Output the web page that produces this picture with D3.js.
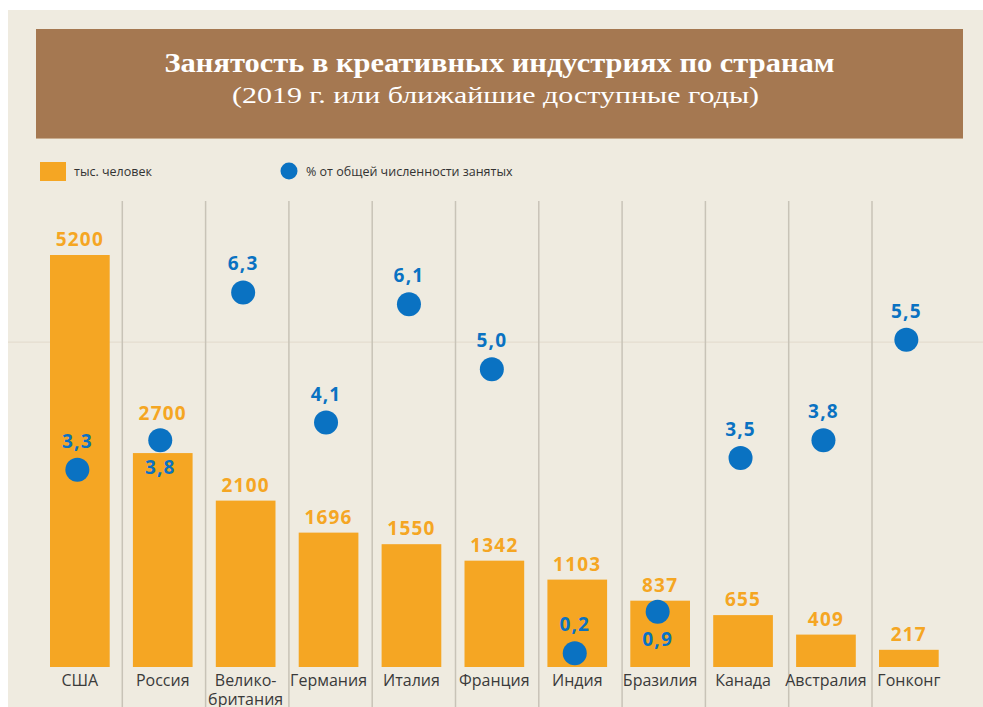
<!DOCTYPE html>
<html lang="ru">
<head>
    <meta charset="utf-8" />
    <title>Занятость в креативных индустриях</title>
    <style>
        body { margin: 0; background: #fff; }
        .title { font-family: "Liberation Serif", serif; fill: #fff; }
        .legend text { font: 12.5px "Open Sans", sans-serif; fill: #333; }
        .country { font: 16px "Open Sans", sans-serif; fill: #3a3a3a; }
        .bar-label { font: bold 19px "Open Sans", sans-serif; fill: #f5a623; letter-spacing: 1.2px; }
        .dot-label { font: bold 19px "Open Sans", sans-serif; fill: #0a72c2; letter-spacing: 1.2px; }
    </style>
</head>
<body>
    <div id="graph"></div>
    <script src="https://cdn.jsdelivr.net/npm/d3@7"></script>
    <script>
        var countries = ["США", "Россия", "Велико-\nбритания", "Германия", "Италия", "Франция",
                         "Индия", "Бразилия", "Канада", "Австралия", "Гонконг"];
        var employment = [5200, 2700, 2100, 1696, 1550, 1342, 1103, 837, 655, 409, 217];   // тыс. человек
        var share = [3.3, 3.8, 6.3, 4.1, 6.1, 5.0, 0.2, 0.9, 3.5, 3.8, 5.5];              // % от занятых
        var labelBelow = ["Россия", "Бразилия"];

        var data = countries.map(function (c, i) {
            return { name: c, value: employment[i], share: share[i] };
        });

        var W = 983, H = 707;
        var orange = "#f5a623", blue = "#0a72c2";

        var svg = d3.select("#graph").append("svg")
            .attr("width", W)
            .attr("height", H);

        // beige panel
        svg.append("rect")
            .attr("x", 8).attr("y", 10)
            .attr("width", W - 8).attr("height", H - 10)
            .attr("fill", "#efebe0");

        // title box
        svg.append("rect")
            .attr("x", 36).attr("y", 29)
            .attr("width", 927).attr("height", 109)
            .attr("fill", "#a57851");
        svg.append("line")
            .attr("x1", 36).attr("x2", 963)
            .attr("y1", 138.5).attr("y2", 138.5)
            .attr("stroke", "#c9ad8f");

        svg.append("text")
            .attr("class", "title")
            .attr("x", 499.5).attr("y", 72)
            .attr("text-anchor", "middle")
            .attr("font-size", 27)
            .attr("font-weight", "bold")
            .attr("textLength", 670)
            .attr("lengthAdjust", "spacingAndGlyphs")
            .text("Занятость в креативных индустриях по странам");
        svg.append("text")
            .attr("class", "title")
            .attr("x", 495.5).attr("y", 103)
            .attr("text-anchor", "middle")
            .attr("font-size", 23)
            .attr("textLength", 527)
            .attr("lengthAdjust", "spacingAndGlyphs")
            .text("(2019 г. или ближайшие доступные годы)");

        // legend
        var legend = svg.append("g").attr("class", "legend");
        legend.append("rect")
            .attr("x", 40).attr("y", 162)
            .attr("width", 26).attr("height", 19)
            .attr("fill", orange);
        legend.append("text")
            .attr("x", 74).attr("y", 175.5)
            .text("тыс. человек");
        legend.append("circle")
            .attr("cx", 289).attr("cy", 171)
            .attr("r", 8.5)
            .attr("fill", blue);
        legend.append("text")
            .attr("x", 306).attr("y", 175.5)
            .text("% от общей численности занятых");

        // scales
        var x = d3.scaleBand()
            .domain(countries)
            .range([38.4, 950.3])
            .paddingInner(0.28)
            .paddingOuter(0.14);

        // columns (separators) are a touch wider than the bar steps
        var col = d3.scaleBand()
            .domain(countries)
            .range([39, 955.3]);

        var y = d3.scaleLinear()
            .domain([0, 5200])
            .range([667, 255]);

        var yDot = d3.scaleLinear()
            .domain([0, 7])
            .range([665, 251]);

        var bw = x.bandwidth();
        var dotShift = -2.5;

        // faint horizontal guide
        svg.append("line")
            .attr("x1", 8).attr("x2", W)
            .attr("y1", y(4100)).attr("y2", y(4100))
            .attr("stroke", "#e4ddcf")
            .attr("stroke-width", 1.2);

        // column separators
        svg.selectAll(".sep")
            .data(countries.slice(1))
            .enter()
            .append("line")
            .attr("class", "sep")
            .attr("x1", function (d) { return col(d); })
            .attr("x2", function (d) { return col(d); })
            .attr("y1", 201).attr("y2", H)
            .attr("stroke", "#c8c3b7")
            .attr("stroke-width", 1.5);

        // bars
        svg.selectAll(".bar")
            .data(data)
            .enter()
            .append("rect")
            .attr("class", "bar")
            .attr("x", function (d) { return x(d.name); })
            .attr("width", bw)
            .attr("y", function (d) { return y(d.value); })
            .attr("height", function (d) { return y(0) - y(d.value); })
            .attr("fill", orange);

        svg.selectAll(".bar-label")
            .data(data)
            .enter()
            .append("text")
            .attr("class", "bar-label")
            .attr("x", function (d) { return x(d.name) + bw / 2; })
            .attr("y", function (d) {
                var ly = y(d.value) - 9;
                // where the dot sits on top of the bar, lift the number over the dot
                if (labelBelow.indexOf(d.name) >= 0) ly = Math.min(ly, yDot(d.share) - 20);
                return ly;
            })
            .attr("text-anchor", "middle")
            .text(function (d) { return d.value; });

        // dots
        svg.selectAll(".dot")
            .data(data)
            .enter()
            .append("circle")
            .attr("class", "dot")
            .attr("cx", function (d) { return x(d.name) + bw / 2 + dotShift; })
            .attr("cy", function (d) { return yDot(d.share); })
            .attr("r", 12)
            .attr("fill", blue);

        svg.selectAll(".dot-label")
            .data(data)
            .enter()
            .append("text")
            .attr("class", "dot-label")
            .attr("x", function (d) { return x(d.name) + bw / 2 + dotShift; })
            .attr("y", function (d) {
                return labelBelow.indexOf(d.name) >= 0 ? yDot(d.share) + 34 : yDot(d.share) - 22;
            })
            .attr("text-anchor", "middle")
            .text(function (d) { return d3.format(".1f")(d.share).replace(".", ","); });

        // country names
        var names = svg.selectAll(".country")
            .data(data)
            .enter()
            .append("text")
            .attr("class", "country")
            .attr("text-anchor", "middle")
            .attr("x", function (d) { return x(d.name) + bw / 2; })
            .attr("y", 686);

        names.selectAll("tspan")
            .data(function (d) { return d.name.split("\n").map(function (s) { return { s: s, x: x(d.name) + bw / 2 }; }); })
            .enter()
            .append("tspan")
            .attr("x", function (t) { return t.x; })
            .attr("dy", function (t, i) { return i ? 19 : 0; })
            .text(function (t) { return t.s; });
    </script>
</body>
</html>
